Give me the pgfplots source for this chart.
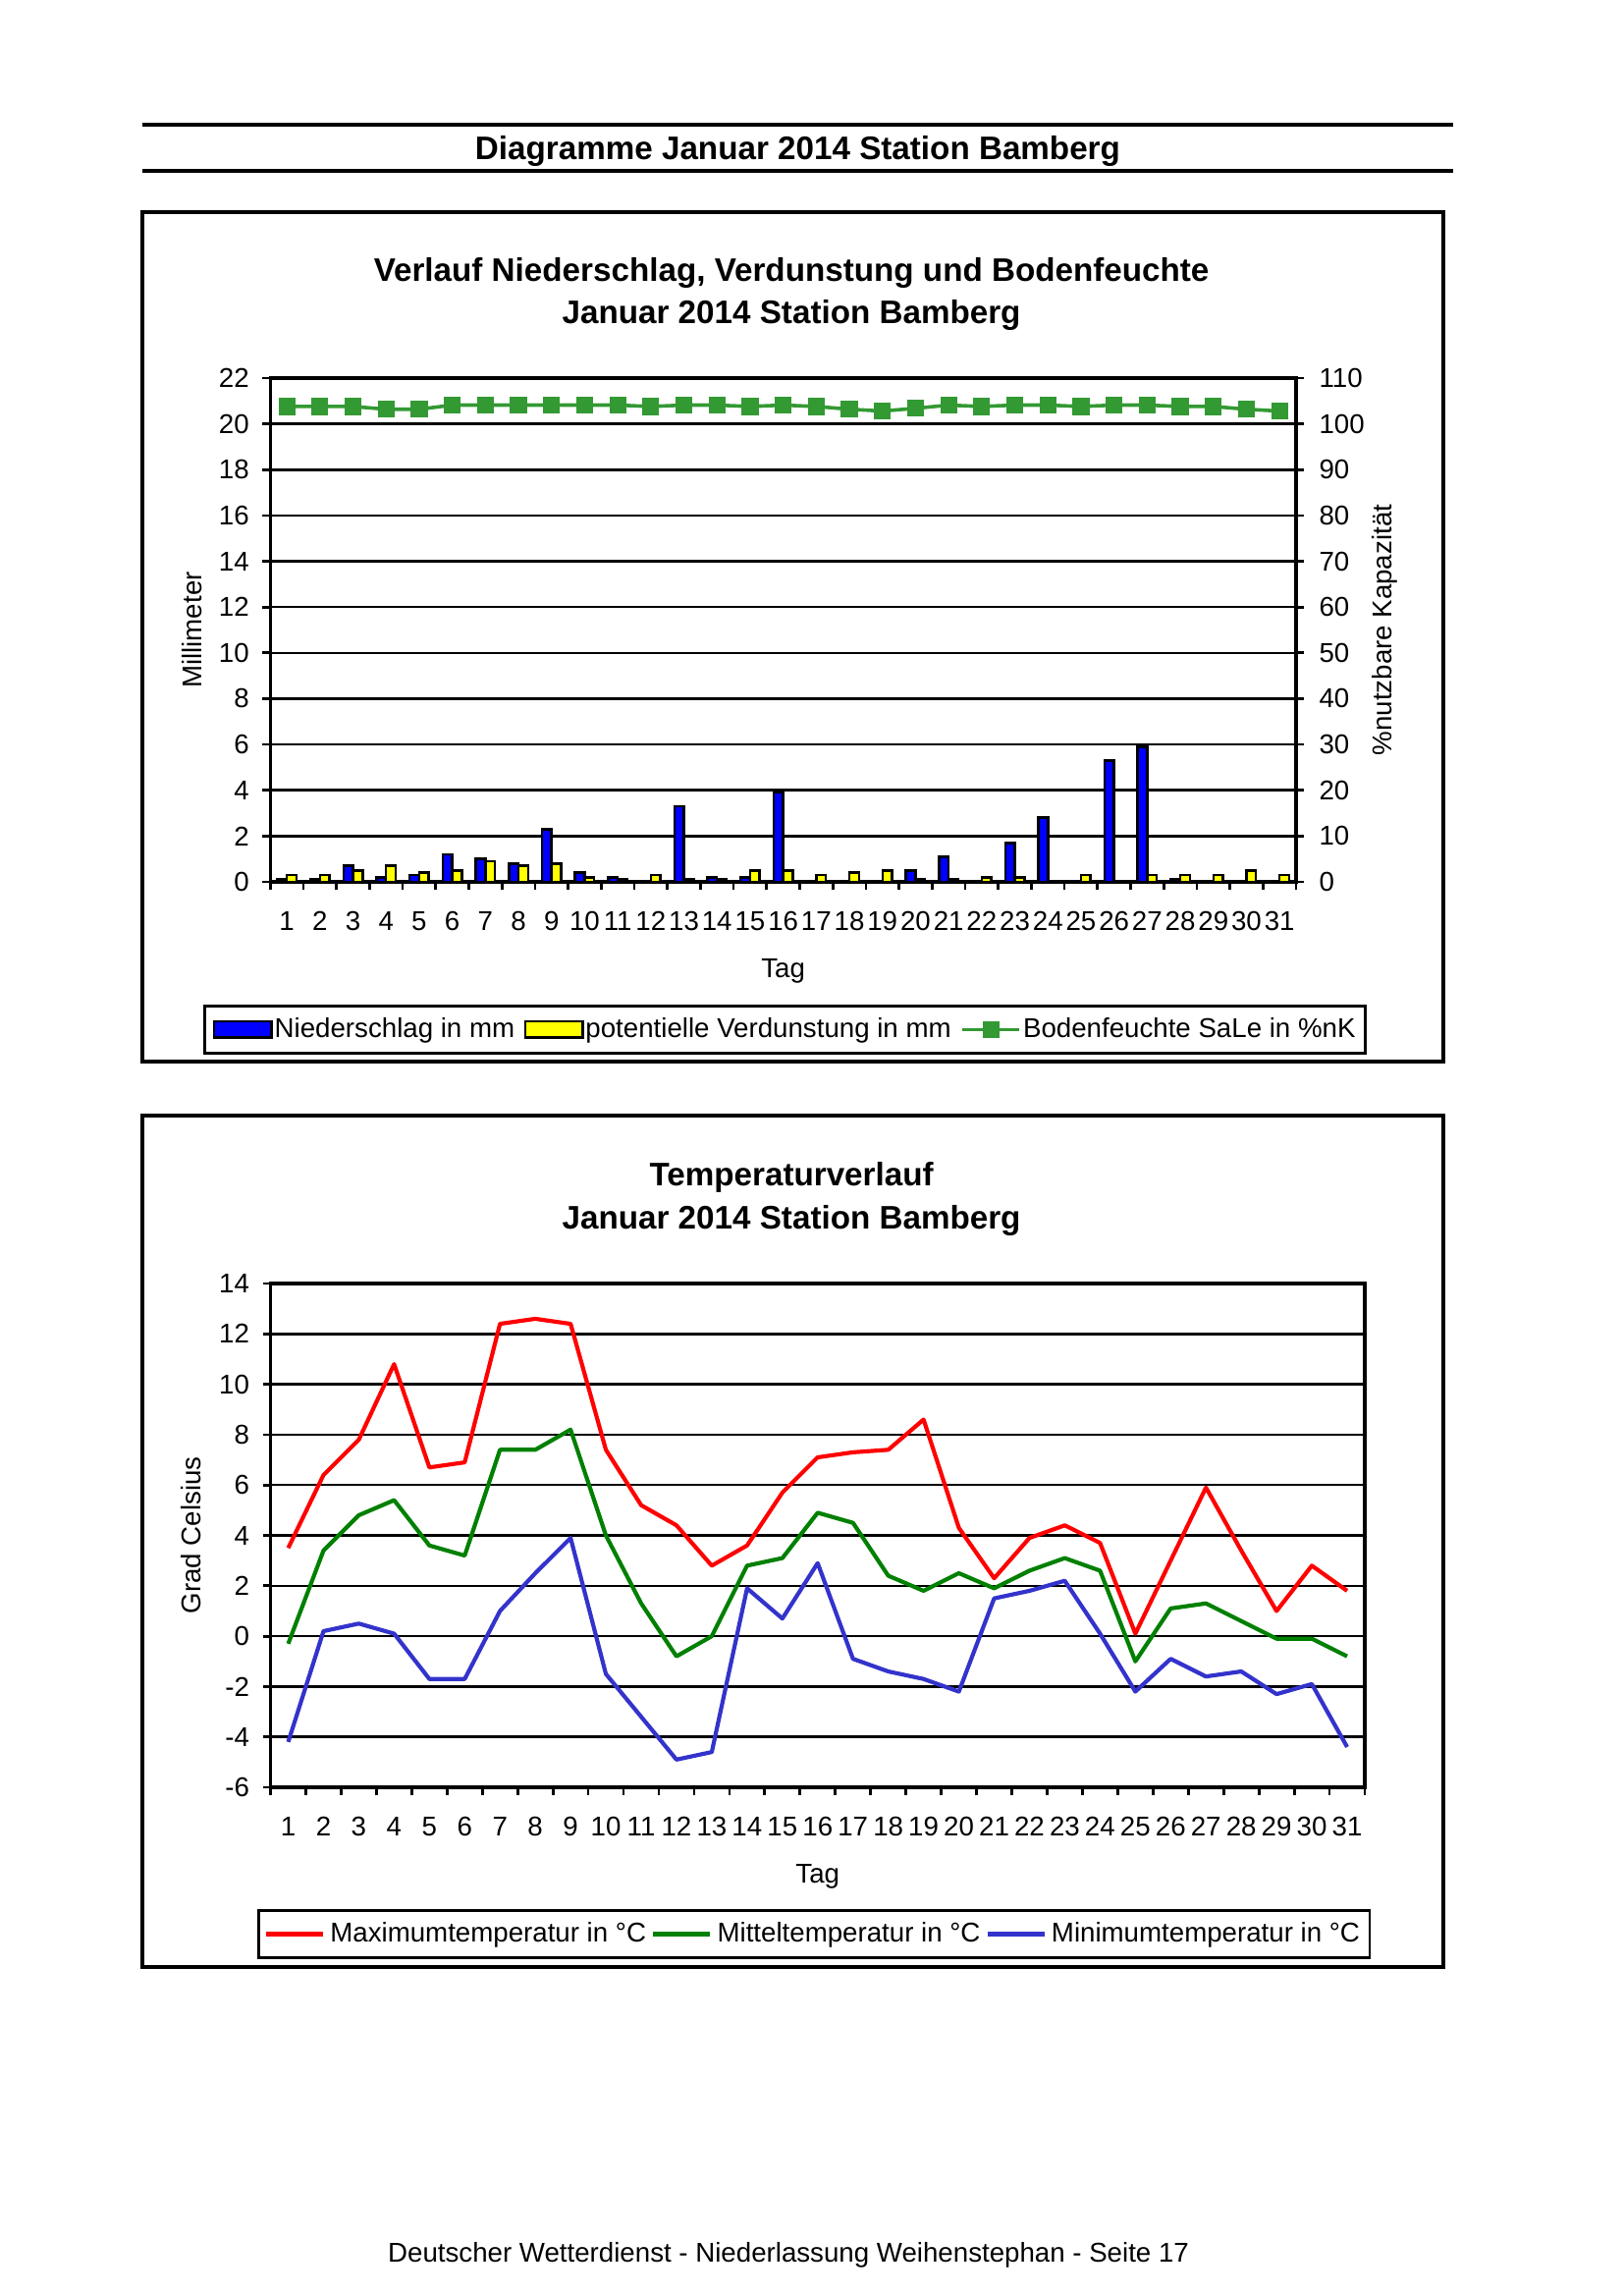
\documentclass[border=0pt]{standalone}
\usepackage{fontspec}
\setmainfont{Liberation Sans}
\usepackage{pgfplots}
\pgfplotsset{compat=1.18}
\usepackage{pgfplotstable}

\definecolor{barblue}{RGB}{0,0,255}
\definecolor{baryellow}{RGB}{255,255,0}
\definecolor{soilgreen}{RGB}{51,153,51}
\definecolor{tred}{RGB}{255,0,0}
\definecolor{tgreen}{RGB}{0,128,0}
\definecolor{tblue}{RGB}{51,51,204}

\pgfplotstableread{
day nied verd bf
1 0.1 0.3 103.8
2 0.1 0.3 103.8
3 0.7 0.5 103.8
4 0.2 0.7 103.2
5 0.3 0.4 103.2
6 1.2 0.5 104.1
7 1.0 0.9 104.1
8 0.8 0.7 104.1
9 2.3 0.8 104.1
10 0.4 0.2 104.1
11 0.2 0.1 104.1
12 0.0 0.3 103.8
13 3.3 0.1 104.1
14 0.2 0.1 104.1
15 0.2 0.5 103.8
16 3.9 0.5 104.1
17 0.0 0.3 103.8
18 0.0 0.4 103.2
19 0.0 0.5 102.8
20 0.5 0.1 103.4
21 1.1 0.1 104.1
22 0.0 0.2 103.8
23 1.7 0.2 104.1
24 2.8 0.05 104.1
25 0.0 0.3 103.8
26 5.3 0.05 104.1
27 5.9 0.3 104.1
28 0.1 0.3 103.8
29 0.0 0.3 103.8
30 0.0 0.5 103.2
31 0.0 0.3 102.8
}\bodenTab

\pgfplotstableread{
day tmax tmit tmin
1 3.5 -0.3 -4.2
2 6.4 3.4 0.2
3 7.8 4.8 0.5
4 10.8 5.4 0.1
5 6.7 3.6 -1.7
6 6.9 3.2 -1.7
7 12.4 7.4 1.0
8 12.6 7.4 2.5
9 12.4 8.2 3.9
10 7.4 4.0 -1.5
11 5.2 1.3 -3.2
12 4.4 -0.8 -4.9
13 2.8 0.0 -4.6
14 3.6 2.8 1.9
15 5.7 3.1 0.7
16 7.1 4.9 2.9
17 7.3 4.5 -0.9
18 7.4 2.4 -1.4
19 8.6 1.8 -1.7
20 4.3 2.5 -2.2
21 2.3 1.9 1.5
22 3.9 2.6 1.8
23 4.4 3.1 2.2
24 3.7 2.6 0.1
25 0.1 -1.0 -2.2
26 3.0 1.1 -0.9
27 5.9 1.3 -1.6
28 3.4 0.6 -1.4
29 1.0 -0.1 -2.3
30 2.8 -0.1 -1.9
31 1.8 -0.8 -4.4
}\tempTab

\pgfplotsset{
  myarealegend/.style={legend image code/.code={\draw[##1] (0bp,-3bp) rectangle (21bp,3bp);}},
  mylinelegend/.style={legend image code/.code={\draw[mark repeat=2,mark phase=2,##1] plot coordinates {(0bp,0bp) (10.5bp,0bp) (21bp,0bp)};}},
  commonaxis/.style={
    scale only axis,
    xmin=0.5, xmax=31.5,
    tick align=outside,
    major tick length=2.9bp,
    tick style={line width=1bp, black},
    axis line style={line width=1.1bp, black},
    every tick label/.append style={font=\fontsize{10}{12}\selectfont},
    label style={font=\fontsize{10}{12}\selectfont},
    /pgf/number format/assume math mode=true,
  },
  dayticks/.style={
    xtick={0.5,1.5,...,31.5}, xticklabels={},
    extra x ticks={1,2,...,31},
    extra x tick labels={1,2,3,4,5,6,7,8,9,10,11,12,13,14,15,16,17,18,19,20,21,22,23,24,25,26,27,28,29,30,31},
    extra x tick style={major tick length=0pt, xticklabel style={anchor=base, inner sep=0pt, yshift=-17.8bp}},
  },
}

\begin{document}
\begin{tikzpicture}
\useasboundingbox (0bp,0bp) rectangle (595.08bp,-841.32bp);

% page header
\draw[line width=1.2bp] (52.2bp,-45.72bp) -- (532.8bp,-45.72bp);
\node[font=\bfseries\fontsize{12}{14}\selectfont] at (292.5bp,-55.3bp) {Diagramme Januar 2014 Station Bamberg};
\draw[line width=1.2bp] (52.2bp,-62.64bp) -- (532.8bp,-62.64bp);

% box 1
\draw[line width=1.1bp] (52.2bp,-77.76bp) rectangle (529.2bp,-389.16bp);
\node[font=\bfseries\fontsize{12}{14}\selectfont] at (290.2bp,-100bp) {Verlauf Niederschlag, Verdunstung und Bodenfeuchte};
\node[font=\bfseries\fontsize{12}{14}\selectfont] at (290.2bp,-115.6bp) {Januar 2014 Station Bamberg};

\begin{axis}[commonaxis, dayticks,
  at={(99.1bp,-323.28bp)}, anchor=south west,
  width=376.1bp, height=184.68bp,
  ymin=0, ymax=22, ytick={0,2,...,22},
  yticklabels={0,2,4,6,8,10,12,14,16,18,20,22},
  ytick pos=left, xtick pos=left,
  ymajorgrids, grid style={line width=0.9bp, black},
  yticklabel style={inner sep=0pt, xshift=-4.66bp},
  ylabel={Millimeter}, ylabel style={at={(axis description cs:-0.0766,0.5)}, anchor=center},
  xlabel={Tag}, xlabel style={at={(axis description cs:0.5,-0.178)}, anchor=center},
  ybar=0pt, bar width=3.5bp,
]
\addplot[fill=barblue, draw=black, line width=0.9bp] table[x=day,y=nied]{\bodenTab};
\addplot[fill=baryellow, draw=black, line width=0.9bp] table[x=day,y=verd]{\bodenTab};
\end{axis}

\begin{axis}[commonaxis, mylinelegend,
  at={(99.1bp,-323.28bp)}, anchor=south west,
  width=376.1bp, height=184.68bp,
  ymin=0, ymax=110, ytick={0,10,...,110},
  yticklabels={0,10,20,30,40,50,60,70,80,90,100,110},
  axis y line*=right, axis x line=none,
  yticklabel style={inner sep=0pt, xshift=5.38bp},
  ylabel={\%nutzbare Kapazität}, ylabel style={at={(axis description cs:1.0861,0.5)}, anchor=center},
  legend columns=3,
  legend style={at={(axis description cs:0.502,-0.293)}, anchor=center,
    draw=black, line width=1bp, inner xsep=3.0bp, inner ysep=3.65bp,
    nodes={inner sep=0.7bp, font=\fontsize{10}{12}\selectfont},
    /tikz/every even column/.append style={column sep=2.7bp}},
]
\addlegendimage{myarealegend, fill=barblue, draw=black, line width=0.9bp}
\addlegendentry{Niederschlag in mm}
\addlegendimage{myarealegend, fill=baryellow, draw=black, line width=0.9bp}
\addlegendentry{potentielle Verdunstung in mm}
\addplot[color=soilgreen, line width=1.3bp, mark=square*, mark size=2.45bp, mark options={solid, fill=soilgreen}] table[x=day,y=bf]{\bodenTab};
\addlegendentry{Bodenfeuchte SaLe in \%nK}
\end{axis}

% box 2
\draw[line width=1.1bp] (52.2bp,-408.96bp) rectangle (529.2bp,-721.08bp);
\node[font=\bfseries\fontsize{12}{14}\selectfont] at (290.2bp,-431.7bp) {Temperaturverlauf};
\node[font=\bfseries\fontsize{12}{14}\selectfont] at (290.2bp,-447.5bp) {Januar 2014 Station Bamberg};

\begin{axis}[commonaxis, dayticks, mylinelegend,
  at={(99.2bp,-655.2bp)}, anchor=south west,
  width=401.2bp, height=184.68bp,
  ymin=-6, ymax=14, ytick={-6,-4,...,14},
  yticklabels={-6,-4,-2,0,2,4,6,8,10,12,14},
  ytick pos=left, xtick pos=left,
  ymajorgrids, grid style={line width=0.9bp, black},
  yticklabel style={inner sep=0pt, xshift=-4.66bp},
  ylabel={Grad Celsius}, ylabel style={at={(axis description cs:-0.0722,0.5)}, anchor=center},
  xlabel={Tag}, xlabel style={at={(axis description cs:0.5,-0.178)}, anchor=center},
  legend columns=3,
  legend style={at={(axis description cs:0.497,-0.2915)}, anchor=center,
    draw=black, line width=1bp, inner xsep=1.8bp, inner ysep=2.55bp,
    nodes={inner sep=1.8bp, font=\fontsize{10}{12}\selectfont},
    /tikz/every even column/.append style={column sep=0bp}},
]
\addplot[color=tred, line width=1.5bp, line join=round, no markers] table[x=day,y=tmax]{\tempTab};
\addlegendentry{Maximumtemperatur in °C}
\addplot[color=tgreen, line width=1.5bp, line join=round, no markers] table[x=day,y=tmit]{\tempTab};
\addlegendentry{Mitteltemperatur in °C}
\addplot[color=tblue, line width=1.5bp, line join=round, no markers] table[x=day,y=tmin]{\tempTab};
\addlegendentry{Minimumtemperatur in °C}
\end{axis}

\node[font=\fontsize{10}{12}\selectfont] at (289.1bp,-826.6bp) {Deutscher Wetterdienst - Niederlassung Weihenstephan - Seite 17};
\end{tikzpicture}
\end{document}
